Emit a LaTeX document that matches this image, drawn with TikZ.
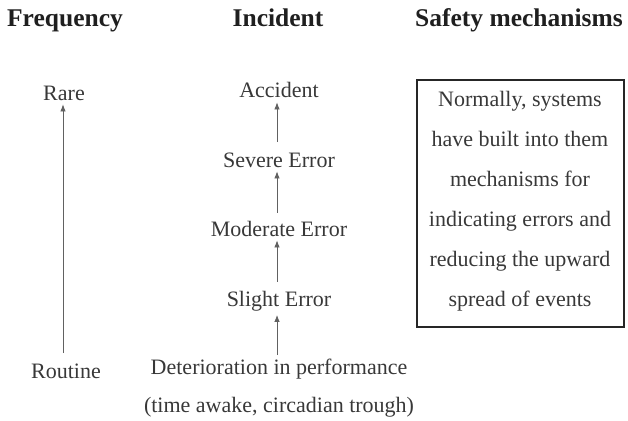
\documentclass[tikz,border=0pt]{standalone}
\usepackage{fontspec}
\setmainfont{Liberation Serif}
\usetikzlibrary{arrows.meta}
\begin{document}
\begin{tikzpicture}[x=1pt,y=-1pt,
  head/.style={font=\fontsize{25.5}{30}\selectfont\bfseries, text=black!88, inner sep=0pt, anchor=base},
  lbl/.style={font=\fontsize{22}{40}\selectfont, text=black!78, inner sep=0pt, anchor=base},
  up/.style={-{Latex[length=7pt,width=5.5pt]}, draw=black!62, line width=0.8pt},
  framebox/.style={draw=black!85, line width=1.8pt, minimum width=207pt, minimum height=247pt, inner sep=0pt}]
\useasboundingbox (0,0) rectangle (628,420);

% column headings
\node[head] (hfreq) at (65,27) {Frequency};
\node[head] (hinc)  at (278,27) {Incident};
\node[head] (hsafe) at (519,27) {Safety mechanisms};

% frequency scale
\node[lbl] (rare)    at (64,100) {Rare};
\node[lbl] (routine) at (66,378) {Routine};
\draw[up] ([yshift=10pt,xshift=-3pt]routine.north) -- ([yshift=-4pt,xshift=-1pt]rare.south);

% incident chain
\node[lbl] (acc)    at (279,97)  {Accident};
\node[lbl] (severe) at (279,167) {Severe Error};
\node[lbl] (mod)    at (279,236) {Moderate Error};
\node[lbl] (slight) at (279,306) {Slight Error};
\node[lbl, anchor=north, align=center, font=\fontsize{22}{38}\selectfont] (det) at (279,359)
  {Deterioration in performance\\(time awake, circadian trough)};

\draw[up] ([yshift=10pt,xshift=-2pt]severe.north) -- ([yshift=-5pt,xshift=-2pt]acc.south);
\draw[up] ([yshift=8pt,xshift=-2pt]mod.north)     -- ([yshift=-4pt,xshift=-2pt]severe.south);
\draw[up] ([yshift=9pt,xshift=-2pt]slight.north)  -- ([yshift=-4pt,xshift=-2pt]mod.south);
\draw[up] ([yshift=4pt,xshift=-2pt]det.north)     -- ([yshift=-4pt,xshift=-2pt]slight.south);

% safety mechanisms box
\node[framebox] (box) at (520.5,203.5) {};
\node[lbl, anchor=north, align=center] (boxtext) at (520,91)
  {Normally, systems\\have built into them\\mechanisms for\\indicating errors and\\reducing the upward\\spread of events};
\end{tikzpicture}
\end{document}
